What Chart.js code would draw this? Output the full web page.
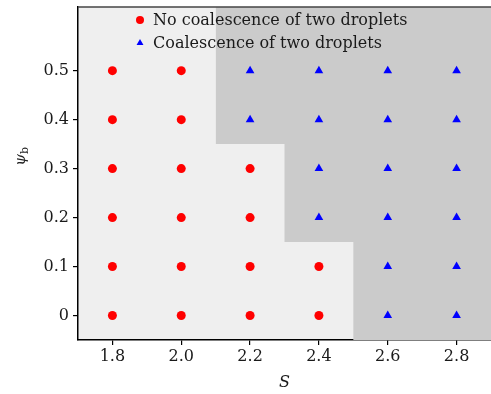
<!DOCTYPE html>
<html>
<head>
<meta charset="utf-8">
<script src="https://cdn.jsdelivr.net/npm/chart.js@4.4.0/dist/chart.umd.min.js"></script>
<style>
  body { margin: 0; background: #fff; }
  #wrap { width: 491px; height: 394px; position: relative; }
</style>
</head>
<body>
<div id="wrap"><canvas id="phaseChart"></canvas></div>
<script>
// S-värden och psi_b-värden
const sValues = [1.8, 2.0, 2.2, 2.4, 2.6, 2.8];
const psiValues = [0, 0.1, 0.2, 0.3, 0.4, 0.5];
const xTicks = [1.8, 2.0, 2.2, 2.4, 2.6, 2.8];
const yTicks = [0, 0.1, 0.2, 0.3, 0.4, 0.5];

// högsta psi_b utan sammanslagning, per S (-1 = ingen)
const noCoalMaxPsi = [0.5, 0.5, 0.3, 0.1, -1, -1];

// gränsen för det mörka området (trappsteg)
const boundaryS = [2.1, 2.3, 2.5, 2.9];
const boundaryPsi = [0.35, 0.15, -0.05, -0.05];

const noCoal = [];
const coal = [];
sValues.forEach((s, i) => {
    psiValues.forEach(p => {
        if (p <= noCoalMaxPsi[i]) noCoal.push({ x: s, y: p });
        else coal.push({ x: s, y: p });
    });
});

const serif = "'DejaVu Serif', 'Liberation Serif', serif";

// bakgrund, ram och y-titel
const backdrop = {
    id: 'backdrop',
    beforeDraw(chart) {
        const { ctx, chartArea: a } = chart;
        ctx.save();
        ctx.fillStyle = '#efefef';
        ctx.fillRect(a.left, a.top, a.right - a.left, a.bottom - a.top);
        ctx.restore();
    },
    afterDraw(chart) {
        const { ctx, chartArea: a } = chart;
        ctx.save();
        ctx.strokeStyle = '#444';
        ctx.lineWidth = 1.5;
        ctx.beginPath();
        ctx.moveTo(a.left, a.top);
        ctx.lineTo(a.right, a.top);
        ctx.stroke();

        // y-axelns titel: psi med index b
        ctx.translate(21, 154);
        ctx.rotate(-Math.PI / 2);
        ctx.fillStyle = '#222';
        ctx.textBaseline = 'middle';
        ctx.font = "italic 15px " + serif;
        ctx.textAlign = 'right';
        ctx.fillText('ψ', 0, 0);
        ctx.font = "11px " + serif;
        ctx.textAlign = 'left';
        ctx.fillText('b', 0, 4);
        ctx.restore();
    }
};

// förklaring inne i diagrammet
const insideLegend = {
    id: 'insideLegend',
    afterDraw(chart) {
        const { ctx } = chart;
        const items = [
            { label: 'No coalescence of two droplets', ds: 1, y: 20 },
            { label: 'Coalescence of two droplets', ds: 2, y: 43 }
        ];
        ctx.save();
        ctx.font = "16px " + serif;
        ctx.textBaseline = 'middle';
        items.forEach(it => {
            const d = chart.data.datasets[it.ds];
            ctx.fillStyle = d.backgroundColor;
            Chart.helpers.drawPoint(ctx, {
                pointStyle: d.pointStyle,
                radius: 4,
                borderWidth: 0
            }, 140, it.y);
            ctx.fillStyle = '#1a1a1a';
            ctx.fillText(it.label, 153, it.y + 1);
        });
        ctx.restore();
    }
};

new Chart(document.getElementById('phaseChart'), {
    type: 'scatter',
    data: {
        datasets: [
            {
                type: 'line',
                label: 'region',
                data: boundaryS.map((s, i) => ({ x: s, y: boundaryPsi[i] })),
                stepped: 'before',
                fill: 'end',
                backgroundColor: '#cbcbcb',
                borderWidth: 0,
                pointRadius: 0,
                order: 10
            },
            {
                label: 'No coalescence of two droplets',
                data: noCoal,
                pointStyle: 'circle',
                pointRadius: 4.5,
                backgroundColor: '#ff0000',
                borderWidth: 0,
                order: 1
            },
            {
                label: 'Coalescence of two droplets',
                data: coal,
                pointStyle: 'triangle',
                pointRadius: 5,
                backgroundColor: '#0000ff',
                borderWidth: 0,
                order: 1
            }
        ]
    },
    options: {
        responsive: true,
        maintainAspectRatio: false,
        animation: false,
        layout: { autoPadding: false, padding: { top: 7, right: 0, left: 0, bottom: 0 } },
        plugins: {
            legend: { display: false },
            tooltip: { enabled: false }
        },
        scales: {
            x: {
                type: 'linear',
                min: 1.7,
                max: 2.9,
                afterBuildTicks: axis => { axis.ticks = xTicks.map(v => ({ value: v })); },
                afterFit: axis => {
                    axis.height = 54;
                    axis.paddingLeft = 0;
                    axis.paddingRight = 0;
                },
                grid: { drawOnChartArea: false, drawTicks: true, tickLength: 5, color: '#000', lineWidth: 1.2 },
                border: { display: true, color: '#000', width: 1.5 },
                ticks: {
                    color: '#1a1a1a',
                    font: { family: serif, size: 16 },
                    padding: 2,
                    maxRotation: 0,
                    callback: v => v.toFixed(1)
                },
                title: {
                    display: true,
                    text: 'S',
                    color: '#1a1a1a',
                    font: { family: serif, size: 16, style: 'italic' },
                    padding: { top: 0, bottom: 2 }
                }
            },
            y: {
                type: 'linear',
                min: -0.05,
                max: 0.63,
                afterBuildTicks: axis => { axis.ticks = yTicks.map(v => ({ value: v })); },
                afterFit: axis => {
                    axis.width = 78;
                    axis.paddingTop = 0;
                    axis.paddingBottom = 0;
                },
                grid: { drawOnChartArea: false, drawTicks: true, tickLength: 5, color: '#000', lineWidth: 1.2 },
                border: { display: true, color: '#000', width: 1.5 },
                ticks: {
                    color: '#1a1a1a',
                    font: { family: serif, size: 16 },
                    padding: 4,
                    callback: v => v === 0 ? '0' : v.toFixed(1)
                }
            }
        }
    },
    plugins: [backdrop, insideLegend]
});
</script>
</body>
</html>
